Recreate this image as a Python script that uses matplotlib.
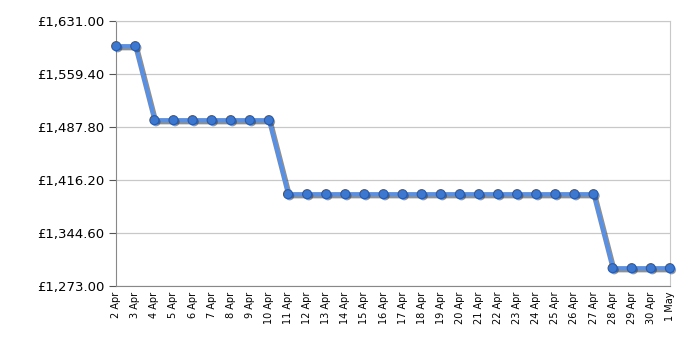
import numpy as np
import matplotlib.pyplot as plt
import matplotlib.patheffects as pe

days = ["2 Apr", "3 Apr", "4 Apr", "5 Apr", "6 Apr", "7 Apr", "8 Apr", "9 Apr", "10 Apr",
        "11 Apr", "12 Apr", "13 Apr", "14 Apr", "15 Apr", "16 Apr", "17 Apr", "18 Apr",
        "19 Apr", "20 Apr", "21 Apr", "22 Apr", "23 Apr", "24 Apr", "25 Apr", "26 Apr",
        "27 Apr", "28 Apr", "29 Apr", "30 Apr", "1 May"]
prices = [1597, 1597,
          1497, 1497, 1497, 1497, 1497, 1497, 1497,
          1397, 1397, 1397, 1397, 1397, 1397, 1397, 1397, 1397, 1397, 1397, 1397,
          1397, 1397, 1397, 1397, 1397,
          1297, 1297, 1297, 1297]
yticks = [1273.00, 1344.60, 1416.20, 1487.80, 1559.40, 1631.00]

fig = plt.figure(figsize=(7, 3.5), dpi=100)
ax = fig.add_axes([0.166, 0.183, 0.791, 0.757])

x = np.arange(len(days))
shadow = [pe.SimpleLineShadow(offset=(1.5, -1.5), shadow_color="#333333", alpha=0.55), pe.Normal()]
ax.plot(x, prices, color="#5b8fe0", lw=3, zorder=3, path_effects=shadow, clip_on=False)
ax.plot(x, prices, ls="none", marker="o", ms=6.5, mfc="#3d78d0", mec="#2a5aa8", mew=0.8,
        zorder=4, clip_on=False,
        path_effects=[pe.SimplePatchShadow(offset=(1.2, -1.2), shadow_rgbFace="#333333", alpha=0.5), pe.Normal()])

ax.set_xlim(0, len(days) - 1)
ax.set_ylim(yticks[0], yticks[-1])
ax.set_yticks(yticks)
ax.set_yticklabels([f"£{v:,.2f}" for v in yticks], fontsize=9.5, family="DejaVu Sans")
ax.set_xticks(x)
ax.set_xticklabels(days, rotation=90, fontsize=7, family="DejaVu Sans")
ax.set_xticks(x[2::3], minor=True)
ax.tick_params(axis="x", which="major", length=0, pad=4)
ax.tick_params(axis="x", which="minor", length=4, color="#555555")
ax.tick_params(axis="y", length=5, color="#555555")

ax.grid(axis="y", color="#c8c8c8", lw=0.9)
ax.grid(axis="x", which="minor", color="#c8c8c8", lw=0.9)
ax.set_axisbelow(True)
for s in ["top", "right"]:
    ax.spines[s].set_color("#c8c8c8")
for s in ["left", "bottom"]:
    ax.spines[s].set_color("#888888")

fig.savefig("out.png", dpi=100)
